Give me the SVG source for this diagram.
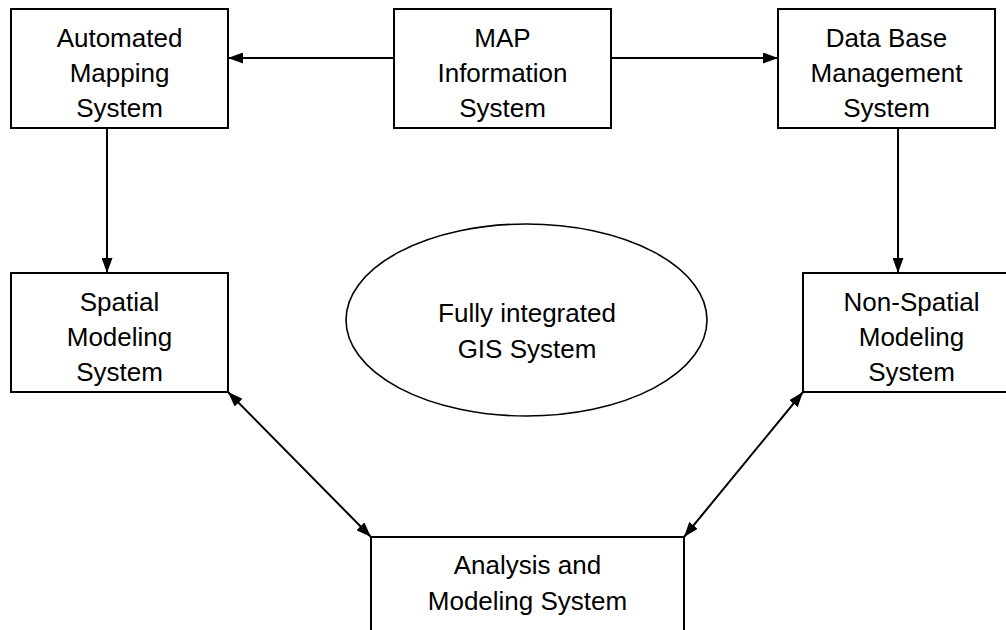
<svg xmlns="http://www.w3.org/2000/svg" width="1006" height="630" viewBox="0 0 1006 630">
<style>
.box{fill:#fff;stroke:#000;stroke-width:2}
.ell{fill:#fff;stroke:#000;stroke-width:1.6}
.lbl{font-family:"Liberation Sans",Arial,sans-serif;font-size:26px;fill:#000;text-anchor:middle}
.con{fill:none;stroke:#000;stroke-width:2}
</style>
<defs>
<marker id="ah" markerWidth="15" markerHeight="11" refX="15" refY="5.5" orient="auto-start-reverse" markerUnits="userSpaceOnUse">
<path d="M0,0 L15,5.5 L0,11 z" fill="#000"/>
</marker>
</defs>
<rect width="1006" height="630" fill="#fff"/>
<g id="connectors">
<line class="con" x1="394" y1="58" x2="228" y2="58" marker-end="url(#ah)"/>
<line class="con" x1="611" y1="58" x2="778" y2="58" marker-end="url(#ah)"/>
<line class="con" x1="107" y1="128" x2="107" y2="273" marker-end="url(#ah)"/>
<line class="con" x1="898" y1="128" x2="898" y2="273" marker-end="url(#ah)"/>
<line class="con" x1="228" y1="392" x2="371" y2="537" marker-start="url(#ah)" marker-end="url(#ah)"/>
<line class="con" x1="803" y1="392" x2="684" y2="537" marker-start="url(#ah)" marker-end="url(#ah)"/>
</g>
<g id="automated">
<rect class="box" x="11" y="9" width="217" height="119"/>
<text class="lbl" x="119.5" y="47">Automated</text>
<text class="lbl" x="119.5" y="82">Mapping</text>
<text class="lbl" x="119.5" y="117">System</text>
</g>
<g id="map">
<rect class="box" x="394" y="9" width="217" height="119"/>
<text class="lbl" x="502.5" y="47">MAP</text>
<text class="lbl" x="502.5" y="82">Information</text>
<text class="lbl" x="502.5" y="117">System</text>
</g>
<g id="dbms">
<rect class="box" x="778" y="9" width="217" height="119"/>
<text class="lbl" x="886.5" y="47">Data Base</text>
<text class="lbl" x="886.5" y="82">Management</text>
<text class="lbl" x="886.5" y="117">System</text>
</g>
<g id="spatial">
<rect class="box" x="11" y="273" width="217" height="119" fill="none"/>
<text class="lbl" x="119.5" y="311">Spatial</text>
<text class="lbl" x="119.5" y="346">Modeling</text>
<text class="lbl" x="119.5" y="381">System</text>
<line x1="11" y1="392" x2="228" y2="392" stroke="#000" stroke-width="2"/>
</g>
<g id="nonspatial">
<rect class="box" x="803" y="273" width="217" height="119"/>
<text class="lbl" x="911.5" y="311">Non-Spatial</text>
<text class="lbl" x="911.5" y="346">Modeling</text>
<text class="lbl" x="911.5" y="381">System</text>
<line x1="803" y1="392" x2="1020" y2="392" stroke="#000" stroke-width="2"/>
</g>
<g id="gis">
<ellipse class="ell" cx="526.5" cy="320" rx="180.5" ry="96"/>
<text class="lbl" x="527" y="322">Fully integrated</text>
<text class="lbl" x="527" y="358">GIS System</text>
</g>
<g id="analysis">
<rect class="box" x="371" y="537" width="313" height="110"/>
<text class="lbl" x="527.5" y="574">Analysis and</text>
<text class="lbl" x="527.5" y="610">Modeling System</text>
</g>
</svg>
